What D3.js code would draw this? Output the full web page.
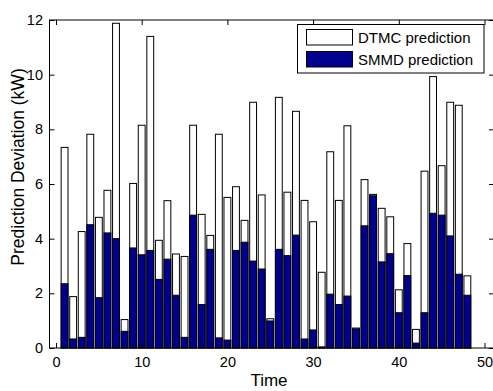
<!DOCTYPE html>
<html>
<head>
<meta charset="utf-8">
<script src="https://cdn.jsdelivr.net/npm/d3@7"></script>
<style>
  html, body { margin: 0; padding: 0; background: #fff; }
  svg { display: block; font-family: "Liberation Sans", Arial, Helvetica, sans-serif; }
</style>
</head>
<body>
<svg id="chart" width="493" height="391"></svg>
<script>
// ---- Data ----
const times = d3.range(1, 49);
const dtmc = [7.34,1.88,4.26,7.82,4.78,5.77,11.88,1.04,6.02,8.15,
              11.40,3.94,5.39,3.44,3.35,8.15,4.89,4.12,7.82,5.51,
              5.90,4.67,8.99,5.60,1.07,9.17,5.70,8.66,5.40,4.62,
              2.77,7.18,5.40,8.13,0.73,6.16,5.62,5.11,4.80,2.13,
              3.82,0.68,6.47,9.93,6.67,8.99,8.88,2.64];
const smmd = [2.35,0.33,0.39,4.51,1.84,4.21,4.00,0.61,3.66,3.41,
              3.57,2.51,3.25,1.93,0.39,4.86,1.59,3.61,0.37,0.29,
              3.57,3.87,3.18,2.89,0.99,3.61,3.38,4.13,0.33,0.66,
              0.04,1.97,1.59,1.90,0.70,4.47,5.57,3.15,3.45,1.29,
              2.65,0.18,1.29,4.93,4.86,4.10,2.70,1.93];
const xTicks = [0, 10, 20, 30, 40, 50];
const yTicks = [0, 2, 4, 6, 8, 10, 12];
const seriesNames = ["DTMC prediction", "SMMD prediction"];
const seriesColors = ["#ffffff", "#000090"];

// ---- Layout ----
const svg = d3.select("#chart");
const box = { left: 49.5, right: 494, top: 20, bottom: 348 };
const x = d3.scaleLinear().domain([0, 50]).range([56, 484.5]);
const y = d3.scaleLinear().domain([0, 12]).range([box.bottom, box.top]);
const barW = x(0.8) - x(0);
const tickLen = 5;
const fontSize = 14.5;

// ---- Bars ----
const gBars = svg.append("g");
[dtmc, smmd].forEach((vals, si) => {
  gBars.selectAll(null)
    .data(times.map((t, i) => ({ t, v: vals[i] })))
    .enter().append("rect")
    .attr("x", d => x(d.t) - barW / 2)
    .attr("y", d => y(d.v))
    .attr("width", barW)
    .attr("height", d => y(0) - y(d.v))
    .attr("fill", seriesColors[si])
    .attr("stroke", "#000")
    .attr("stroke-width", 1);
});

// ---- Axes (MATLAB style: ticks inside, box) ----
const axisColor = "#000";
const gAx = svg.append("g");

const axBottom = gAx.append("g").attr("transform", `translate(0,${box.bottom})`)
  .call(d3.axisBottom(x).tickValues(xTicks).tickSize(-tickLen).tickPadding(tickLen + 4).tickSizeOuter(0));
const axTop = gAx.append("g").attr("transform", `translate(0,${box.top})`)
  .call(d3.axisTop(x).tickValues(xTicks).tickSize(-tickLen).tickFormat("").tickSizeOuter(0));
const axLeft = gAx.append("g").attr("transform", `translate(${box.left},0)`)
  .call(d3.axisLeft(y).tickValues(yTicks).tickSize(-tickLen).tickPadding(6).tickSizeOuter(0));
const axRight = gAx.append("g").attr("transform", `translate(${box.right},0)`)
  .call(d3.axisRight(y).tickValues(yTicks).tickSize(-tickLen).tickFormat("").tickSizeOuter(0));

[axBottom, axTop, axLeft, axRight].forEach(g => {
  g.select(".domain").remove();
  g.selectAll("line").attr("stroke", axisColor);
  g.selectAll("text").attr("fill", "#000").attr("font-size", fontSize)
    .attr("font-family", '"Liberation Sans", Arial, sans-serif');
});
axLeft.selectAll("text").attr("x", -6.5);

// box frame
gAx.append("rect")
  .attr("x", box.left).attr("y", box.top)
  .attr("width", box.right - box.left).attr("height", box.bottom - box.top)
  .attr("fill", "none").attr("stroke", axisColor).attr("stroke-width", 1);

// ---- Labels ----
svg.append("text")
  .attr("x", 269).attr("y", 386)
  .attr("text-anchor", "middle").attr("font-size", 17)
  .text("Time");
svg.append("text")
  .attr("transform", "translate(24,167) rotate(-90)")
  .attr("text-anchor", "middle").attr("font-size", 17.5)
  .text("Prediction Deviation (kW)");

// ---- Legend ----
const lg = svg.append("g");
lg.append("rect").attr("x", 297.5).attr("y", 24.5).attr("width", 186.5).attr("height", 48.5)
  .attr("fill", "#fff").attr("stroke", "#000").attr("stroke-width", 1);
seriesNames.forEach((name, i) => {
  const cy = 37 + i * 22;
  lg.append("rect").attr("x", 306.5).attr("y", cy - 7.5).attr("width", 46).attr("height", 15.5)
    .attr("fill", seriesColors[i]).attr("stroke", "#000").attr("stroke-width", 1);
  lg.append("text").attr("x", 358).attr("y", cy + 5.5)
    .attr("font-size", 15).text(name);
});
</script>
</body>
</html>
